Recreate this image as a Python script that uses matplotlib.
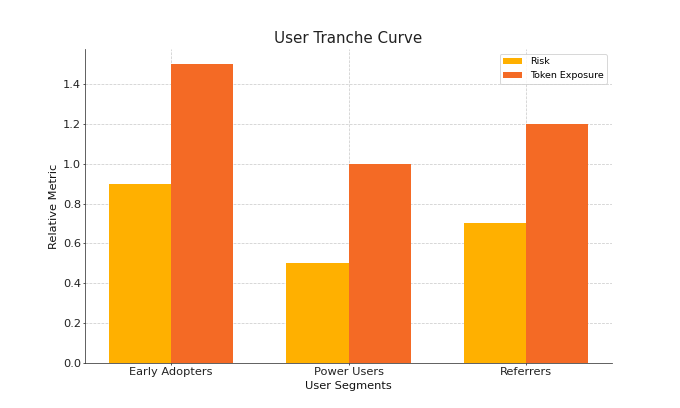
import numpy as np
import matplotlib.pyplot as plt

segments = ['Early Adopters', 'Power Users', 'Referrers']
risk = [0.9, 0.5, 0.7]
token_exposure = [1.5, 1.0, 1.2]

RISK_COLOR = '#FFB000'
TOKEN_COLOR = '#F46A25'

fig, ax = plt.subplots(figsize=(10, 6), dpi=68)

x = np.arange(len(segments))
width = 0.35
ax.bar(x - width / 2, risk, width, label='Risk', color=RISK_COLOR)
ax.bar(x + width / 2, token_exposure, width, label='Token Exposure', color=TOKEN_COLOR)

ax.set_title('User Tranche Curve', fontsize=16, color='#222222')
ax.set_xlabel('User Segments', fontsize=12, color='#111111', labelpad=4)
ax.set_ylabel('Relative Metric', fontsize=12, color='#111111')
ax.set_xticks(x)
ax.set_xticklabels(segments)
ax.tick_params(axis='both', labelsize=12, colors='#222222', length=2, pad=2)

ax.grid(True, linestyle='--', color='#cccccc', linewidth=0.8)
ax.set_axisbelow(True)
for side in ['top', 'right']:
    ax.spines[side].set_visible(False)
for side in ['left', 'bottom']:
    ax.spines[side].set_color('#333333')

ax.legend(loc='upper right', fontsize=10)

plt.savefig('out.png', dpi=68)
